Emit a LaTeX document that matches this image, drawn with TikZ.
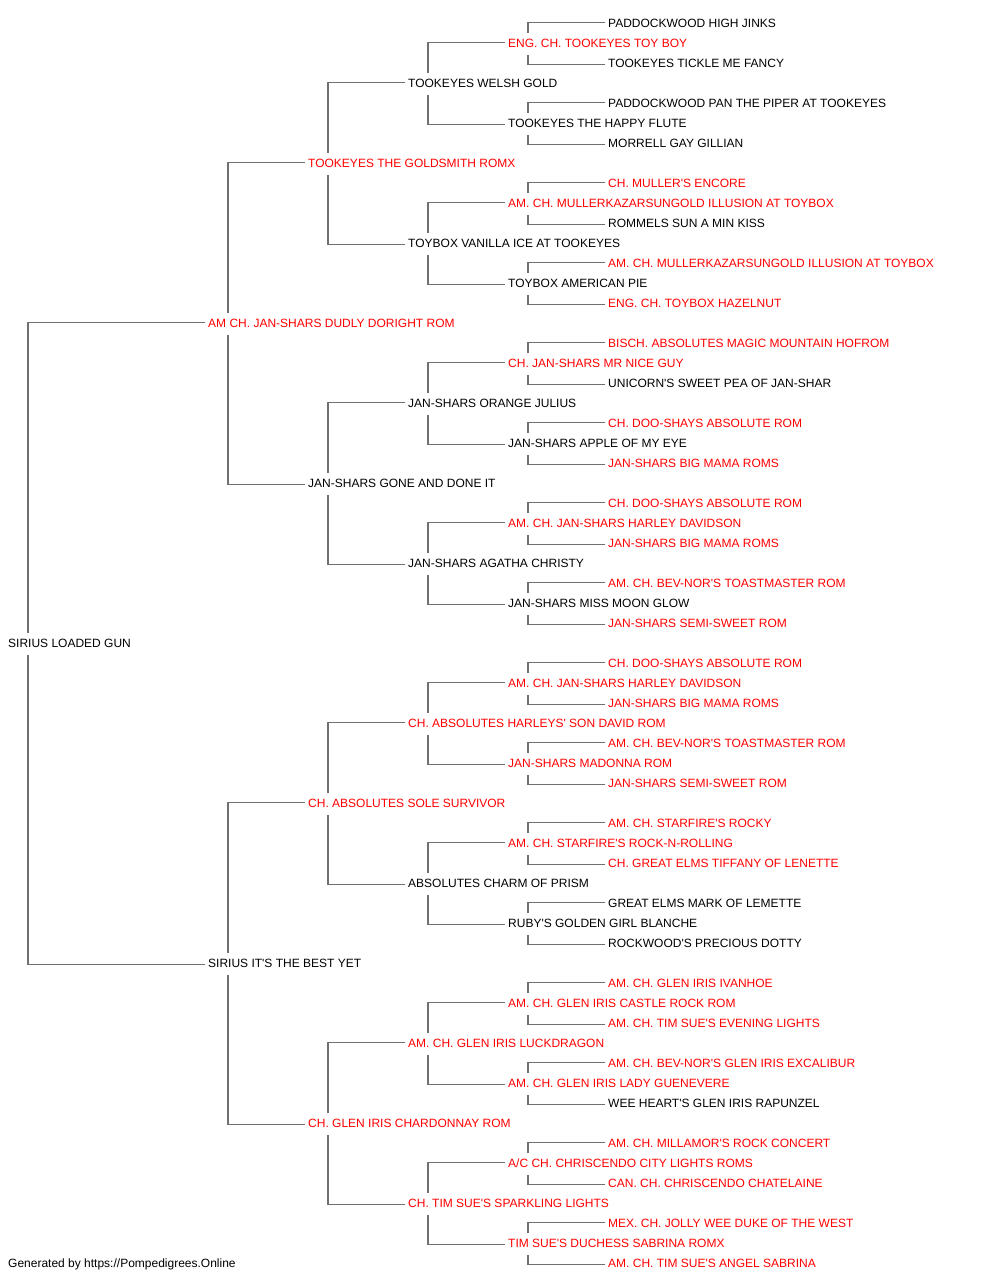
\documentclass[tikz,border=0pt]{standalone}
\usepackage{fontspec}
\setmainfont{Liberation Sans}
\definecolor{champred}{HTML}{FF0000}
\definecolor{linkgray}{HTML}{707070}
\newcommand\ap{\textquotesingle}
\begin{document}
\begin{tikzpicture}[x=1pt, y=-1pt,
    every node/.style={font=\fontsize{12pt}{14pt}\selectfont, anchor=west,
        inner sep=0pt, text height=8.6pt, text depth=0pt, yshift=-0.6pt},
    champ/.style={text=champred},
    link/.style={draw=linkgray, line width=1.4pt}]
        \useasboundingbox (0,0) rectangle (1000,1280);
        % generation 0 and 1
        \node (root) at (8,643) {SIRIUS LOADED GUN};
        \node[champ] (s) at (208,323) {AM CH. JAN-SHARS DUDLY DORIGHT ROM};
        \node        (d) at (208,963) {SIRIUS IT\ap S THE BEST YET};
        % generation 2
        \node[champ] (ss) at (308,163)  {TOOKEYES THE GOLDSMITH ROMX};
        \node        (sd) at (308,483)  {JAN-SHARS GONE AND DONE IT};
        \node[champ] (ds) at (308,803)  {CH. ABSOLUTES SOLE SURVIVOR};
        \node[champ] (dd) at (308,1123) {CH. GLEN IRIS CHARDONNAY ROM};
        % generation 3
        \node        (sss) at (408,83)   {TOOKEYES WELSH GOLD};
        \node        (ssd) at (408,243)  {TOYBOX VANILLA ICE AT TOOKEYES};
        \node        (sds) at (408,403)  {JAN-SHARS ORANGE JULIUS};
        \node        (sdd) at (408,563)  {JAN-SHARS AGATHA CHRISTY};
        \node[champ] (dss) at (408,723)  {CH. ABSOLUTES HARLEYS\ap{} SON DAVID ROM};
        \node        (dsd) at (408,883)  {ABSOLUTES CHARM OF PRISM};
        \node[champ] (dds) at (408,1043) {AM. CH. GLEN IRIS LUCKDRAGON};
        \node[champ] (ddd) at (408,1203) {CH. TIM SUE\ap S SPARKLING LIGHTS};
        % generation 4
        \node[champ] (ssss) at (508,43)   {ENG. CH. TOOKEYES TOY BOY};
        \node        (sssd) at (508,123)  {TOOKEYES THE HAPPY FLUTE};
        \node[champ] (ssds) at (508,203)  {AM. CH. MULLERKAZARSUNGOLD ILLUSION AT TOYBOX};
        \node        (ssdd) at (508,283)  {TOYBOX AMERICAN PIE};
        \node[champ] (sdss) at (508,363)  {CH. JAN-SHARS MR NICE GUY};
        \node        (sdsd) at (508,443)  {JAN-SHARS APPLE OF MY EYE};
        \node[champ] (sdds) at (508,523)  {AM. CH. JAN-SHARS HARLEY DAVIDSON};
        \node        (sddd) at (508,603)  {JAN-SHARS MISS MOON GLOW};
        \node[champ] (dsss) at (508,683)  {AM. CH. JAN-SHARS HARLEY DAVIDSON};
        \node[champ] (dssd) at (508,763)  {JAN-SHARS MADONNA ROM};
        \node[champ] (dsds) at (508,843)  {AM. CH. STARFIRE\ap S ROCK-N-ROLLING};
        \node        (dsdd) at (508,923)  {RUBY\ap S GOLDEN GIRL BLANCHE};
        \node[champ] (ddss) at (508,1003) {AM. CH. GLEN IRIS CASTLE ROCK ROM};
        \node[champ] (ddsd) at (508,1083) {AM. CH. GLEN IRIS LADY GUENEVERE};
        \node[champ] (ddds) at (508,1163) {A/C CH. CHRISCENDO CITY LIGHTS ROMS};
        \node[champ] (dddd) at (508,1243) {TIM SUE\ap S DUCHESS SABRINA ROMX};
        % generation 5
        \node        (sssss) at (608,23)   {PADDOCKWOOD HIGH JINKS};
        \node        (ssssd) at (608,63)   {TOOKEYES TICKLE ME FANCY};
        \node        (sssds) at (608,103)  {PADDOCKWOOD PAN THE PIPER AT TOOKEYES};
        \node        (sssdd) at (608,143)  {MORRELL GAY GILLIAN};
        \node[champ] (ssdss) at (608,183)  {CH. MULLER\ap S ENCORE};
        \node        (ssdsd) at (608,223)  {ROMMELS SUN A MIN KISS};
        \node[champ] (ssdds) at (608,263)  {AM. CH. MULLERKAZARSUNGOLD ILLUSION AT TOYBOX};
        \node[champ] (ssddd) at (608,303)  {ENG. CH. TOYBOX HAZELNUT};
        \node[champ] (sdsss) at (608,343)  {BISCH. ABSOLUTES MAGIC MOUNTAIN HOFROM};
        \node        (sdssd) at (608,383)  {UNICORN\ap S SWEET PEA OF JAN-SHAR};
        \node[champ] (sdsds) at (608,423)  {CH. DOO-SHAYS ABSOLUTE ROM};
        \node[champ] (sdsdd) at (608,463)  {JAN-SHARS BIG MAMA ROMS};
        \node[champ] (sddss) at (608,503)  {CH. DOO-SHAYS ABSOLUTE ROM};
        \node[champ] (sddsd) at (608,543)  {JAN-SHARS BIG MAMA ROMS};
        \node[champ] (sddds) at (608,583)  {AM. CH. BEV-NOR\ap S TOASTMASTER ROM};
        \node[champ] (sdddd) at (608,623)  {JAN-SHARS SEMI-SWEET ROM};
        \node[champ] (dssss) at (608,663)  {CH. DOO-SHAYS ABSOLUTE ROM};
        \node[champ] (dsssd) at (608,703)  {JAN-SHARS BIG MAMA ROMS};
        \node[champ] (dssds) at (608,743)  {AM. CH. BEV-NOR\ap S TOASTMASTER ROM};
        \node[champ] (dssdd) at (608,783)  {JAN-SHARS SEMI-SWEET ROM};
        \node[champ] (dsdss) at (608,823)  {AM. CH. STARFIRE\ap S ROCKY};
        \node[champ] (dsdsd) at (608,863)  {CH. GREAT ELMS TIFFANY OF LENETTE};
        \node        (dsdds) at (608,903)  {GREAT ELMS MARK OF LEMETTE};
        \node        (dsddd) at (608,943)  {ROCKWOOD\ap S PRECIOUS DOTTY};
        \node[champ] (ddsss) at (608,983)  {AM. CH. GLEN IRIS IVANHOE};
        \node[champ] (ddssd) at (608,1023) {AM. CH. TIM SUE\ap S EVENING LIGHTS};
        \node[champ] (ddsds) at (608,1063) {AM. CH. BEV-NOR\ap S GLEN IRIS EXCALIBUR};
        \node        (ddsdd) at (608,1103) {WEE HEART\ap S GLEN IRIS RAPUNZEL};
        \node[champ] (dddss) at (608,1143) {AM. CH. MILLAMOR\ap S ROCK CONCERT};
        \node[champ] (dddsd) at (608,1183) {CAN. CH. CHRISCENDO CHATELAINE};
        \node[champ] (dddds) at (608,1223) {MEX. CH. JOLLY WEE DUKE OF THE WEST};
        \node[champ] (ddddd) at (608,1263) {AM. CH. TIM SUE\ap S ANGEL SABRINA};
        \node (credit) at (8,1263) {Generated by https://Pompedigrees.Online};
        % sire and dam elbows
        \foreach \p/\s/\d in {root/s/d, s/ss/sd, d/ds/dd,
            ss/sss/ssd, sd/sds/sdd, ds/dss/dsd, dd/dds/ddd,
            sss/ssss/sssd, ssd/ssds/ssdd, sds/sdss/sdsd, sdd/sdds/sddd,
            dss/dsss/dssd, dsd/dsds/dsdd, dds/ddss/ddsd, ddd/ddds/dddd,
            ssss/sssss/ssssd, sssd/sssds/sssdd, ssds/ssdss/ssdsd, ssdd/ssdds/ssddd,
            sdss/sdsss/sdssd, sdsd/sdsds/sdsdd, sdds/sddss/sddsd, sddd/sddds/sdddd,
            dsss/dssss/dsssd, dssd/dssds/dssdd, dsds/dsdss/dsdsd, dsdd/dsdds/dsddd,
            ddss/ddsss/ddssd, ddsd/ddsds/ddsdd, ddds/dddss/dddsd, dddd/dddds/ddddd} {
            \draw[link] ([xshift=-3pt, yshift=1pt]\s.west) -| ([xshift=20pt, yshift=11pt]\p.west);
            \draw[link] ([xshift=-3pt, yshift=-1pt]\d.west) -| ([xshift=20pt, yshift=-11pt]\p.west);
        }
    \end{tikzpicture}
\end{document}
